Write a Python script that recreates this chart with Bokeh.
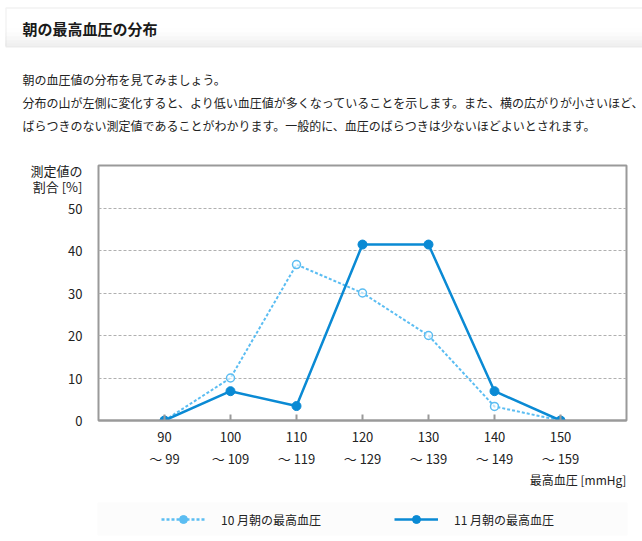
from bokeh.plotting import figure
from bokeh.layouts import column
from bokeh.models import (Range1d, FixedTicker, LinearAxis, Label, BoxAnnotation,
                          Legend, LegendItem, ColumnDataSource)
from bokeh.embed import file_html
from bokeh.resources import INLINE

# ---- data ----
range_low = ["90", "100", "110", "120", "130", "140", "150"]
range_high = ["99", "109", "119", "129", "139", "149", "159"]
oct_values = [0, 10.0, 36.7, 30.0, 20.0, 3.3, 0]
nov_values = [0, 6.9, 3.4, 41.4, 41.4, 6.9, 0]
y_ticks = [0, 10, 20, 30, 40, 50]
series_names = ["10 月朝の最高血圧", "11 月朝の最高血圧"]

title_text = "朝の最高血圧の分布"
para_lines = [
    "朝の血圧値の分布を見てみましょう。",
    "分布の山が左側に変化すると、より低い血圧値が多くなっていることを示します。また、横の広がりが小さいほど、",
    "ばらつきのない測定値であることがわかります。一般的に、血圧のばらつきは少ないほどよいとされます。",
]
y_label_lines = ["測定値の", "割合 [%]"]
x_label = "最高血圧 [mmHg]"

FONT = "Noto Sans CJK JP"
OCT_C = "#5bbdf2"
NOV_C = "#0a8ad4"
TXT = "#222222"
W = 642

idx = list(range(len(range_low)))
src = ColumnDataSource(data=dict(x=idx, oct=oct_values, nov=nov_values))

# ================= top block: header + paragraph =================
HA = 145
fa = figure(width=W, height=HA, x_range=Range1d(0, W), y_range=Range1d(HA, 0),
            output_backend="svg", toolbar_location=None, min_border=0,
            x_axis_location=None, y_axis_location=None, outline_line_color=None,
            background_fill_color="white", border_fill_color="white", frame_align=False)
fa.grid.visible = False
fa.add_layout(BoxAnnotation(left=5, right=700, top=7, bottom=46,
                            fill_color="white", line_color=None))
grad = ["#fcfcfc", "#f8f8f8", "#f3f3f3", "#eeeeee", "#eaeaea"]
band_tops = [28, 32, 36, 40, 43]
for c, t in zip(grad, band_tops):
    fa.add_layout(BoxAnnotation(left=5, right=700, top=t, bottom=46,
                                fill_color=c, line_color=None))
fa.add_layout(BoxAnnotation(left=5.5, right=700, top=7.5, bottom=46.5,
                            fill_color=None, line_color="#d4d4d4", line_width=1.5))
fa.add_layout(Label(x=22, y=28, text=title_text, text_font=FONT,
                    text_font_size="15px", text_font_style="bold", text_color="#1a1a1a",
                    text_baseline="middle"))
for line, yy in zip(para_lines, [79, 102, 125]):
    fa.add_layout(Label(x=22, y=yy, text=line, text_font=FONT, text_font_size="12px",
                        text_color=TXT, text_baseline="middle"))

# ================= chart =================
HB = 327  # page y 145 .. 472 (frame 165 .. 420)
y_lab_pos = [58.8, 55.1]
p = figure(width=W, height=HB, x_range=Range1d(-1, 7), y_range=Range1d(0, 60),
           output_backend="svg", toolbar_location=None,
           min_border_left=98, min_border_right=16, min_border_top=20, min_border_bottom=52,
           background_fill_color="white", border_fill_color="white", frame_align=False)

p.outline_line_color = "#9a9a9a"
p.outline_line_width = 2
p.xgrid.visible = False
p.ygrid.ticker = FixedTicker(ticks=y_ticks[1:])
p.ygrid.grid_line_color = "#b0b0b0"
p.ygrid.grid_line_dash = "3 2"
p.ygrid.grid_line_width = 1

ya = p.yaxis[0]
ya.ticker = FixedTicker(ticks=y_ticks + y_lab_pos)
ya.major_label_overrides = {v: s for v, s in zip(y_lab_pos, y_label_lines)}
ya.axis_line_color = None
ya.major_tick_line_color = None
ya.minor_tick_line_color = None
ya.major_label_standoff = 10
ya.major_label_text_font = FONT
ya.major_label_text_font_size = "13px"
ya.major_label_text_color = TXT

xa = p.xaxis[0]
xa.ticker = FixedTicker(ticks=idx)
xa.major_label_overrides = {i: s for i, s in zip(idx, range_low)}
xa.axis_line_color = "#9a9a9a"
xa.axis_line_width = 2
xa.major_tick_line_color = "#9a9a9a"
xa.major_tick_line_width = 2
xa.major_tick_in = 6
xa.major_tick_out = 0
xa.minor_tick_line_color = None
xa.major_label_standoff = 11
xa.major_label_text_font = FONT
xa.major_label_text_font_size = "13px"
xa.major_label_text_color = TXT

xa2 = LinearAxis(ticker=FixedTicker(ticks=idx),
                 major_label_overrides={i: "～ " + s for i, s in zip(idx, range_high)})
xa2.axis_line_color = None
xa2.major_tick_line_color = None
xa2.minor_tick_line_color = None
xa2.major_label_standoff = -2
xa2.major_label_text_font = FONT
xa2.major_label_text_font_size = "13px"
xa2.major_label_text_color = TXT
p.add_layout(xa2, "below")

p.line("x", "oct", source=src, line_color=OCT_C, line_width=2, line_dash="3 2")
p.scatter("x", "oct", source=src, size=8, marker="circle", fill_color="white",
          fill_alpha=0.6, line_color=OCT_C, line_width=1.5)
p.line("x", "nov", source=src, line_color=NOV_C, line_width=2.5)
p.scatter("x", "nov", source=src, size=9, marker="circle", fill_color=NOV_C,
          line_color=NOV_C)

# ================= bottom block: x label + legend =================
HC = 69  # page y 472 .. 541
fc = figure(width=W, height=HC, x_range=Range1d(0, W), y_range=Range1d(HC, 0),
            output_backend="svg", toolbar_location=None, min_border=0,
            x_axis_location=None, y_axis_location=None, outline_line_color=None,
            background_fill_color="white", border_fill_color="white", frame_align=False)
fc.grid.visible = False
fc.extra_x_ranges = {"off": Range1d(-1, 7)}
fc.extra_y_ranges = {"off": Range1d(1000, 1060)}
fc.add_layout(Label(x=626, y=6.5, text=x_label, text_font=FONT, text_font_size="12px",
                    text_color=TXT, text_align="right", text_baseline="middle"))
fc.add_layout(BoxAnnotation(left=97, right=627, top=30, bottom=63,
                            fill_color="#f7f7f7", line_color=None))
# legend glyphs: same series, mapped to an off-screen range so only the legend shows them
l1 = fc.line("x", "oct", source=src, line_color=OCT_C, line_width=2.5, line_dash="3 2",
             x_range_name="off", y_range_name="off")
m1 = fc.scatter("x", "oct", source=src, size=9, marker="circle", fill_color=OCT_C,
                line_color=OCT_C, x_range_name="off", y_range_name="off")
l2 = fc.line("x", "nov", source=src, line_color=NOV_C, line_width=2.5,
             x_range_name="off", y_range_name="off")
m2 = fc.scatter("x", "nov", source=src, size=9, marker="circle", fill_color=NOV_C,
                line_color=NOV_C, x_range_name="off", y_range_name="off")
legend = Legend(items=[LegendItem(label=series_names[0], renderers=[l1, m1]),
                       LegendItem(label=series_names[1], renderers=[l2, m2])],
                orientation="horizontal", location=(161, 12),
                padding=0, margin=0, spacing=73, glyph_width=44, glyph_height=20,
                label_height=20, label_standoff=16, border_line_color=None,
                background_fill_alpha=0, label_text_font=FONT,
                label_text_font_size="12px", label_text_color=TXT)
fc.add_layout(legend, "center")

layout = column(fa, p, fc, spacing=0)
open("out.html", "w").write(file_html(layout, INLINE))
